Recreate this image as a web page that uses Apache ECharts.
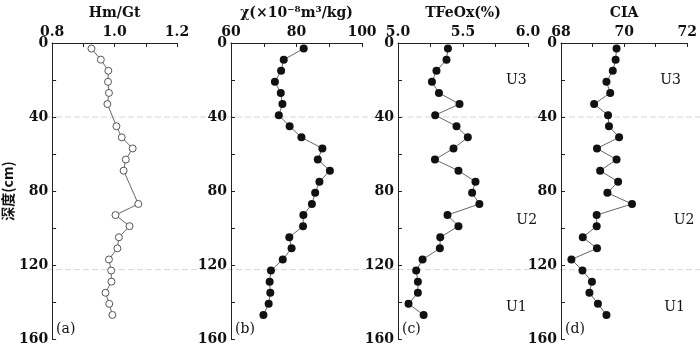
<!DOCTYPE html>
<html>
<head>
<meta charset="utf-8">
<script src="https://cdn.jsdelivr.net/npm/echarts@6/dist/echarts.min.js"></script>
<style>
  html, body { margin: 0; background: #fff; }
  #chart { width: 700px; height: 347px; }
</style>
</head>
<body>
<div id="chart"></div>
<script>
// sample depths (cm)
const depths = [3, 9, 15, 21, 27, 33, 39, 45, 51, 57, 63, 69, 75, 81, 87, 93, 99, 105, 111, 117, 123, 129, 135, 141, 147]

// Hm/Gt ratio (null = no sample)
const hmGt = [0.926, 0.956, 0.980, 0.979, 0.982, 0.977, null, 1.006, 1.023, 1.058, 1.036, 1.029, null, null,
  1.076, 1.003, 1.048, 1.014, 1.009, 0.982, 0.989, 0.990, 0.971, 0.983, 0.993]
// magnetic susceptibility χ (×10^-8 m3/kg)
const chi = [82.2, 76.1, 75.3, 73.4, 75.2, 75.7, 74.6, 77.9, 81.5, 87.9, 86.5, 90.2, 87.0, 85.7,
  84.7, 82.1, 82.0, 77.8, 78.5, 75.8, 72.2, 71.8, 72.0, 71.5, 69.9]
// TFeOx (%)
const tfeox = [5.384, 5.373, 5.296, 5.261, 5.315, 5.473, 5.286, 5.450, 5.537, 5.427, 5.284, 5.465, 5.596, 5.570,
  5.626, 5.381, 5.465, 5.325, 5.322, 5.189, 5.140, 5.153, 5.153, 5.081, 5.197]
// CIA
const cia = [69.76, 69.73, 69.64, 69.44, 69.56, 69.05, 69.49, 69.52, 69.84, 69.14, 69.76, 69.24, 69.81, 69.47,
  70.25, 69.13, 69.13, 68.69, 69.14, 68.33, 68.68, 68.98, 68.90, 69.17, 69.44]

const depthTicks = [0, 40, 80, 120, 160]
const unitBounds = [40, 122.5]
const panelTags = ['(a)', '(b)', '(c)', '(d)']
const unitNames = ['U3', 'U2', 'U1']

const FONT = 'DejaVu Serif'
const CJK = '"Noto Sans CJK SC"'

const panels = [
  { name: 'Hm/Gt', data: hmGt, min: 0.8, max: 1.2, tick: 0.1, step: 0.2, digits: 1, hollow: true, left: 47, width: 130 },
  { name: 'χ(×10⁻⁸m³/kg)', data: chi, min: 60, max: 100, tick: 10, step: 20, digits: 0, hollow: false, left: 231, width: 131 },
  { name: 'TFeOx(%)', data: tfeox, min: 5.0, max: 6.0, tick: 0.25, step: 0.5, digits: 1, hollow: false, left: 398, width: 130 },
  { name: 'CIA', data: cia, min: 68, max: 72, tick: 1, step: 2, digits: 0, hollow: false, left: 561, width: 129 }
]

const chart = echarts.init(document.getElementById('chart'))

const isStep = (v, s) => Math.abs(Math.round(v / s) * s - v) < 1e-6

const option = {
  animation: false,
  grid: panels.map(p => ({ left: p.left, top: 43, width: p.width, height: 296 })),
  xAxis: panels.map((p, i) => ({
    type: 'value',
    gridIndex: i,
    position: 'top',
    min: p.min,
    max: p.max,
    interval: p.tick,
    name: p.name,
    nameLocation: 'middle',
    nameGap: 23,
    nameTextStyle: { fontFamily: FONT, fontSize: 14, fontWeight: 'bold', color: '#111' },
    axisLine: { show: true, lineStyle: { color: '#222', width: 1 } },
    axisTick: { show: true, inside: true, length: 4, lineStyle: { color: '#222' } },
    axisLabel: {
      margin: 4,
      fontFamily: FONT,
      fontSize: 14,
      fontWeight: 'bold',
      color: '#111',
      formatter: v => isStep(v, p.step) ? v.toFixed(p.digits) : ''
    },
    splitLine: { show: false }
  })),
  yAxis: panels.map((p, i) => ({
    type: 'value',
    gridIndex: i,
    inverse: true,
    min: 0,
    max: 160,
    interval: 20,
    name: i === 0 ? '深度(cm)' : '',
    nameLocation: 'middle',
    nameGap: 32,
    nameRotate: 90,
    nameTextStyle: { fontFamily: CJK + ',' + FONT, fontSize: 14, fontWeight: 'bold', color: '#111' },
    axisLine: { show: true, onZero: false, lineStyle: { color: '#222', width: 1 } },
    axisTick: { show: true, inside: true, length: 4, lineStyle: { color: '#222' } },
    axisLabel: {
      margin: 4,
      fontFamily: FONT,
      fontSize: 14,
      fontWeight: 'bold',
      color: '#111',
      formatter: v => depthTicks.includes(v) ? String(v) : ''
    },
    splitLine: { show: false }
  })),
  series: panels.map((p, i) => ({
    type: 'line',
    xAxisIndex: i,
    yAxisIndex: i,
    data: depths.map((d, k) => p.data[k] == null ? null : [p.data[k], d]).filter(v => v),
    symbol: 'circle',
    symbolSize: p.hollow ? 7 : 8,
    showAllSymbol: true,
    lineStyle: { color: '#666', width: 1 },
    itemStyle: p.hollow
      ? { color: '#fff', borderColor: '#555', borderWidth: 1 }
      : { color: '#111', borderColor: '#111', borderWidth: 0 }
  }))
}

chart.setOption(option)

// boundary lines, unit names and panel tags, positioned through the axes
const graphics = []
unitBounds.forEach(b => {
  const y = chart.convertToPixel({ gridIndex: 0 }, [0.8, b])[1]
  graphics.push({
    type: 'line',
    shape: { x1: 47, y1: y, x2: 700, y2: y },
    style: { stroke: '#d6d6d6', lineWidth: 1, lineDash: [6, 3] },
    z: 0
  })
})

panels.forEach((p, i) => {
  const pos = chart.convertToPixel({ gridIndex: i }, [p.min, 155])
  graphics.push({
    type: 'text',
    x: pos[0] + 4,
    y: pos[1],
    style: { text: panelTags[i], font: '14px "' + FONT + '"', fill: '#111', verticalAlign: 'middle' }
  })
})

const unitPos = [
  { grid: 2, pts: [[5.91, 20], [5.99, 96], [5.91, 143]] },
  { grid: 3, pts: [[71.47, 20], [71.9, 96], [71.6, 143]] }
]
unitPos.forEach(u => {
  u.pts.forEach((pt, k) => {
    const pos = chart.convertToPixel({ gridIndex: u.grid }, pt)
    graphics.push({
      type: 'text',
      x: pos[0],
      y: pos[1],
      style: { text: unitNames[k], font: '14px "' + FONT + '"', fill: '#111', align: 'center', verticalAlign: 'middle' }
    })
  })
})

chart.setOption({ graphic: graphics })
</script>
</body>
</html>
